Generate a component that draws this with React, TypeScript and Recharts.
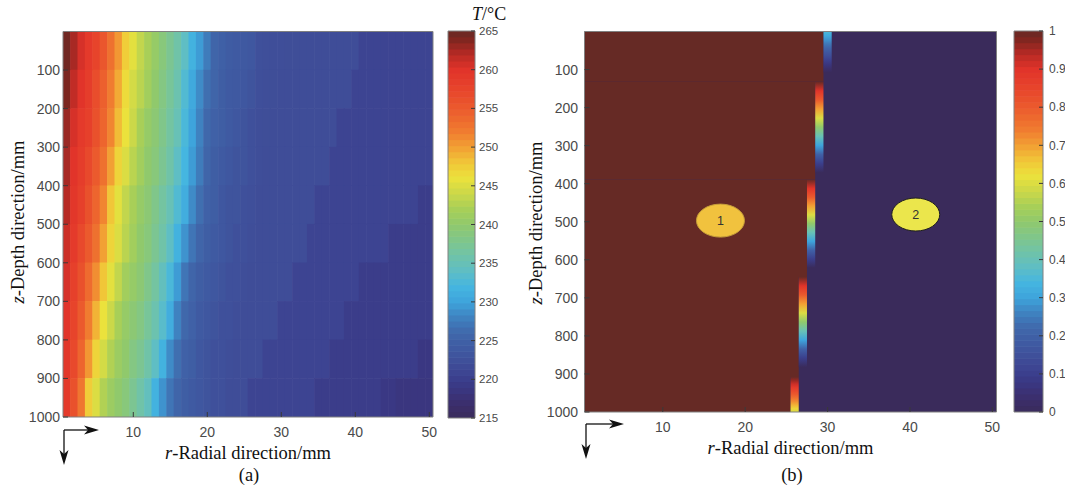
import React from "react";
import { ComposedChart, Scatter, XAxis, YAxis, ReferenceArea } from "recharts";

// ---------- axes / ticks ----------
const R_COLUMNS = [
  1, 2, 3, 4, 5, 6, 7, 8, 9, 10, 11, 12, 13, 14, 15, 16, 17, 18, 19, 20, 21, 22, 23, 24, 25,
  26, 27, 28, 29, 30, 31, 32, 33, 34, 35, 36, 37, 38, 39, 40, 41, 42, 43, 44, 45, 46, 47, 48, 49, 50,
];
const Z_ROWS = [50, 150, 250, 350, 450, 550, 650, 750, 850, 950];
const R_TICKS = [10, 20, 30, 40, 50];
const Z_TICKS = [100, 200, 300, 400, 500, 600, 700, 800, 900, 1000];
const T_TICKS = [215, 220, 225, 230, 235, 240, 245, 250, 255, 260, 265];
const PHASE_TICKS = [0, 0.1, 0.2, 0.3, 0.4, 0.5, 0.6, 0.7, 0.8, 0.9, 1];
const R_DOMAIN: [number, number] = [0.5, 50.5];
const Z_DOMAIN: [number, number] = [0, 1000];

// ---------- (a) temperature field, °C, one row per 100 mm of depth ----------
const tZ50 = [
  264.5, 262.5, 260.5, 259, 257.5, 255.5, 253, 250.5, 247.5, 245.5,
  243.5, 242, 240.5, 239, 237.5, 236, 234, 231.5, 229.5, 227.5,
  225.5, 224.8, 224.3, 224, 223.8, 223.5, 222.5, 222.3, 222.2, 222.2,
  222.1, 222.1, 222, 222, 222, 222, 222, 222, 222, 222,
  220.8, 220.8, 220.8, 220.8, 220.8, 220.8, 220.8, 220.8, 220.8, 220.8,
];
const tZ150 = [
  264, 261.5, 260, 258.5, 256.5, 254.5, 252, 249.5, 246.5, 244.5,
  243, 241.5, 240, 238.5, 237, 235.5, 233, 230.5, 228.5, 226.5,
  225.5, 224.5, 224, 223.8, 223.5, 223, 222.3, 222.2, 222.1, 222,
  222, 222, 222, 222, 222, 222, 222, 222, 222, 220.8,
  220.8, 220.8, 220.8, 220.8, 220.8, 220.8, 220.8, 220.8, 220.8, 220.8,
];
const tZ250 = [
  263, 260.5, 259, 258, 256, 254, 251.5, 248.5, 246, 244,
  242, 240.5, 239.5, 238, 236.5, 235, 232.5, 230, 228, 226,
  225, 224.5, 224, 223.5, 223, 222.5, 222.2, 222.1, 222, 222,
  222, 222, 222, 222, 222, 222, 222, 220.8, 220.8, 220.8,
  220.8, 220.8, 220.8, 220.8, 220.8, 220.8, 220.8, 220.8, 220.8, 220.8,
];
const tZ350 = [
  262.5, 260, 258.5, 257, 255, 253, 250, 247, 245, 243,
  241.5, 240, 239, 237.5, 236, 234, 232, 229.5, 227.5, 225.5,
  224.5, 224, 223.5, 223, 223, 222.5, 222.2, 222, 222, 222,
  222, 222, 222, 222, 222, 222, 220.8, 220.8, 220.8, 220.8,
  220.8, 220.8, 220.8, 220.8, 220.8, 220.8, 220.8, 220.8, 220.8, 220.8,
];
const tZ450 = [
  262, 259.5, 258, 256, 254, 251.5, 248, 245.5, 243.5, 242,
  240.5, 239.5, 238, 236.5, 235, 233, 231, 228.5, 226.5, 225,
  224.5, 223.5, 223, 223, 222.5, 222.3, 222, 222, 222, 222,
  222, 222, 222, 222, 220.8, 220.8, 220.8, 220.8, 220.8, 220.8,
  220.8, 220.8, 220.8, 220.8, 220.8, 220.8, 220.8, 220.8, 219.8, 219.8,
];
const tZ550 = [
  261, 259, 257, 255, 253, 250, 247, 245, 243, 241.5,
  240, 239, 237.5, 236, 234, 231.5, 229, 227, 225.5, 224.5,
  224, 223.5, 223, 222.5, 222.5, 222.2, 222, 222, 222, 222,
  222, 222, 222, 220.8, 220.8, 220.8, 220.8, 220.8, 220.8, 220.8,
  220.8, 220.8, 220.8, 220.8, 219.8, 219.8, 219.8, 219.8, 219.8, 219.8,
];
const tZ650 = [
  260.5, 258, 256, 253.5, 251, 248, 245.5, 243.5, 241.5, 240.5,
  239.5, 238, 236.5, 234.5, 232.5, 229.5, 227, 225.5, 224.5, 224,
  223.5, 223, 222.5, 222.5, 222.2, 222, 222, 222, 222, 222,
  222, 220.8, 220.8, 220.8, 220.8, 220.8, 220.8, 220.8, 220.8, 220.8,
  219.8, 219.8, 219.8, 219.8, 219.8, 219.8, 219.8, 219.8, 219.8, 219.8,
];
const tZ750 = [
  260, 257.5, 255, 252, 249, 246, 244, 242, 240.5, 239.5,
  238.5, 237, 235.5, 233.5, 231, 228, 226, 225, 224, 223.5,
  223, 222.5, 222.5, 222.2, 222, 222, 222, 222, 222, 220.8,
  220.8, 220.8, 220.8, 220.8, 220.8, 220.8, 220.8, 220.8, 219.8, 219.8,
  219.8, 219.8, 219.8, 219.8, 219.8, 219.8, 219.8, 219.8, 219.8, 219.8,
];
const tZ850 = [
  259.5, 257, 254, 250.5, 247, 244.5, 242.5, 241, 240, 238.5,
  237.5, 236, 234, 231.5, 228.5, 226.5, 225, 224.5, 223.5, 223,
  222.5, 222.5, 222.2, 222, 222, 222, 222, 220.8, 220.8, 220.8,
  220.8, 220.8, 220.8, 220.8, 220.8, 220.8, 219.8, 219.8, 219.8, 219.8,
  219.8, 219.8, 219.8, 219.8, 219.8, 219.8, 219.8, 219.8, 218.8, 218.8,
];
const tZ950 = [
  259, 256, 252.5, 247.5, 245, 242.5, 241, 240, 239, 237.5,
  236, 234.5, 231.5, 229, 227, 225.5, 224.5, 224, 223.5, 223,
  222.5, 222.5, 222, 222, 222, 220.8, 220.8, 220.8, 220.8, 220.8,
  220.8, 220.8, 220.8, 220.8, 219.8, 219.8, 219.8, 219.8, 219.8, 219.8,
  219.8, 219.8, 219.8, 219, 219, 218.5, 218.5, 218.5, 218.5, 218.5,
];
const T_ROWS = [tZ50, tZ150, tZ250, tZ350, tZ450, tZ550, tZ650, tZ750, tZ850, tZ950];

// ---------- (b) phase field: 1 = region 1, 0 = region 2 ----------
const BAND_Z0 = [0, 132, 389, 645, 908];
const BAND_Z1 = [132, 389, 645, 908, 1000];
const BAND_LAST_COL = [29, 28, 27, 26, 25];

const STRIP_COL = [30, 29, 28, 27, 26];
const STRIP_Z0 = [0, 132, 389, 645, 908];
const STRIP_Z1 = [108, 371, 621, 882, 1000];
const STRIP_TOP = [0.35, 1, 1, 1, 1];
const STRIP_BOTTOM = [0, 0, 0, 0, 0.6];

const MARKER_R = [17, 40.7];
const MARKER_Z = [497, 481];
const MARKER_TEXT = ["1", "2"];
const MARKER_FILL = ["#f1c23e", "#ebe64c"];
const MARKER_STROKE = ["#c49c3a", "#1e1e1e"];

// ---------- colormap ----------
const CMAP_POS = [0, 0.04, 0.08, 0.11, 0.14, 0.18, 0.22, 0.26, 0.3, 0.34, 0.38, 0.42, 0.46, 0.5, 0.54, 0.58, 0.62, 0.66, 0.7, 0.74, 0.8, 0.86, 0.9, 0.94, 0.98, 1];
const CMAP_HEX = [
  "#3a2b5b", "#3b2f6e", "#3a3884", "#3c4290", "#3f4d98", "#3f5aa2", "#4068ab", "#3f82c0", "#3ea4dc",
  "#45b6e0", "#5fbec4", "#70c3a8", "#80c68a", "#90c96c", "#a8cf58", "#cbd849", "#ebe23c", "#f1c638",
  "#f2a034", "#f07c30", "#eb5a2d", "#e6402b", "#e1342a", "#b72a25", "#7c2620", "#662a25",
];
const CMAP_LEVELS = 64;

const SANS = '"Liberation Sans", Arial, sans-serif';
const SERIF = '"Liberation Serif", "Times New Roman", serif';
const FRAME = "#808080";
const TICK = "#3a3a3a";
const TICK_TEXT = "#4a4a4a";
const H = 497;

const hexRgb = (h: string) => [1, 3, 5].map((i) => parseInt(h.slice(i, i + 2), 16));

function smoothColor(v: number) {
  const x = Math.max(0, Math.min(1, v));
  let i = 0;
  while (i < CMAP_POS.length - 2 && x > CMAP_POS[i + 1]) i++;
  const t = (x - CMAP_POS[i]) / (CMAP_POS[i + 1] - CMAP_POS[i]);
  const a = hexRgb(CMAP_HEX[i]);
  const b = hexRgb(CMAP_HEX[i + 1]);
  const c = a.map((av, k) => Math.round(av + (b[k] - av) * t));
  return `rgb(${c[0]},${c[1]},${c[2]})`;
}

// colorbar: a table of 64 flat levels, as MATLAB draws it
function cmap(v: number) {
  const idx = Math.min(CMAP_LEVELS - 1, Math.max(0, Math.floor(v * CMAP_LEVELS)));
  return smoothColor((idx + 0.5) / CMAP_LEVELS);
}
const tempColor = (t: number) => smoothColor((t - 215) / 50);

// ---------- decorations ----------
function CoordArrows({ x, y, right, down }: { x: number; y: number; right: number; down: number }) {
  return (
    <g>
      <line x1={x} y1={y} x2={right - 9} y2={y} stroke="#111" strokeWidth={1.3} />
      <polygon points={`${right},${y} ${right - 15},${y - 4.5} ${right - 11},${y} ${right - 15},${y + 4.5}`} fill="#111" />
      <line x1={x} y1={y} x2={x} y2={down - 9} stroke="#111" strokeWidth={1.3} />
      <polygon points={`${x},${down} ${x - 4.5},${down - 15} ${x},${down - 11} ${x + 4.5},${down - 15}`} fill="#111" />
    </g>
  );
}

type PanelCfg = {
  left: number; width: number; x0: number; x1: number; y0: number; y1: number;
  yTickMargin: number; xTickMargin: number; titleY: number; letter: string; letterX: number;
  yTitleX: number; yTitleY: number; origin: [number, number]; tips: [number, number];
};

const PANEL_A: PanelCfg = {
  left: 0, width: 445, x0: 63, x1: 433, y0: 31.5, y1: 417, yTickMargin: 8, xTickMargin: 15,
  titleY: 459, letter: "(a)", letterX: 249, yTitleX: 24, yTitleY: 222, origin: [64, 430], tips: [99, 465],
};
const PANEL_B: PanelCfg = {
  left: 520, width: 490, x0: 584.5, x1: 996.5, y0: 31.5, y1: 412, yTickMargin: 11.5, xTickMargin: 14.7,
  titleY: 454, letter: "(b)", letterX: 792, yTitleX: 542, yTitleY: 223, origin: [586, 424], tips: [624, 459],
};

const tickStyle = { fontSize: 14, fill: TICK_TEXT, fontFamily: SANS };

function frameAxes(c: PanelCfg) {
  const L = c.left;
  const xLabel = () => (
    <g>
      <text x={(c.x0 + c.x1) / 2 - L} y={c.titleY} textAnchor="middle" fontFamily={SERIF} fontSize={18.5} fill="#111">
        <tspan fontStyle="italic">r</tspan>-Radial direction/mm
      </text>
      <text x={c.letterX - L} y={481} textAnchor="middle" fontFamily={SERIF} fontSize={18.5} fill="#111">
        {c.letter}
      </text>
      <CoordArrows x={c.origin[0] - L} y={c.origin[1]} right={c.tips[0] - L} down={c.tips[1]} />
    </g>
  );
  const yLabel = () => (
    <text
      transform={`translate(${c.yTitleX - L},${c.yTitleY}) rotate(-90)`}
      textAnchor="middle" fontFamily={SERIF} fontSize={18.5} fill="#111"
    >
      <tspan fontStyle="italic">z</tspan>-Depth direction/mm
    </text>
  );
  return [
    <XAxis key="xb" xAxisId={0} dataKey="r" type="number" domain={R_DOMAIN} ticks={R_TICKS} interval={0}
      allowDataOverflow height={30} tickSize={-5} tickMargin={c.xTickMargin}
      axisLine={{ stroke: FRAME }} tickLine={{ stroke: TICK }} tick={tickStyle} label={xLabel} />,
    <XAxis key="xt" xAxisId="top" orientation="top" type="number" domain={R_DOMAIN} ticks={R_TICKS} interval={0}
      allowDataOverflow height={1} tickSize={-5} tick={false}
      axisLine={{ stroke: FRAME }} tickLine={{ stroke: TICK }} />,
    <YAxis key="yl" yAxisId={0} dataKey="z" type="number" domain={Z_DOMAIN} reversed ticks={Z_TICKS} interval={0}
      allowDataOverflow width={45} tickSize={-5} tickMargin={c.yTickMargin}
      axisLine={{ stroke: FRAME }} tickLine={{ stroke: TICK }} tick={tickStyle} label={yLabel} />,
    <YAxis key="yr" yAxisId="right" orientation="right" type="number" domain={Z_DOMAIN} reversed ticks={Z_TICKS}
      interval={0} allowDataOverflow width={1} tickSize={-5} tick={false}
      axisLine={{ stroke: FRAME }} tickLine={{ stroke: TICK }} />,
  ];
}

const panelMargin = (c: PanelCfg) => ({
  top: c.y0 - 1,
  bottom: H - c.y1 - 30,
  left: c.x0 - c.left - 45,
  right: c.left + c.width - c.x1 - 1,
});

// ---------- panel (a) ----------
const tempCells = Z_ROWS.flatMap((z, ri) => R_COLUMNS.map((r, ci) => ({ r, z, t: T_ROWS[ri][ci] })));
const CELL_W = (PANEL_A.x1 - PANEL_A.x0) / R_COLUMNS.length;
const CELL_H = (PANEL_A.y1 - PANEL_A.y0) / Z_ROWS.length;

const cellShape = (p: any) => (
  <rect x={p.cx - CELL_W / 2 - 0.3} y={p.cy - CELL_H / 2 - 0.3} width={CELL_W + 0.6} height={CELL_H + 0.6}
    fill={tempColor(p.payload.t)} />
);

function TemperaturePanel() {
  const c = PANEL_A;
  return (
    <div style={{ position: "absolute", left: c.left, top: 0 }}>
      <ComposedChart width={c.width} height={H} margin={panelMargin(c)}>
        <Scatter data={tempCells} shape={cellShape} isAnimationActive={false} zIndex={50} />
        {frameAxes(c)}
      </ComposedChart>
    </div>
  );
}

// ---------- panel (b) ----------
const markers = MARKER_R.map((r, i) => ({ r, z: MARKER_Z[i], text: MARKER_TEXT[i], fill: MARKER_FILL[i], stroke: MARKER_STROKE[i] }));

const markerShape = (p: any) => (
  <g>
    <ellipse cx={p.cx} cy={p.cy} rx={24} ry={16.5} fill={p.payload.fill} stroke={p.payload.stroke} strokeWidth={1} />
    <text x={p.cx} y={p.cy + 4.5} textAnchor="middle" fontFamily={SANS} fontSize={12.5} fill="#333">
      {p.payload.text}
    </text>
  </g>
);

function PhasePanel() {
  const c = PANEL_B;
  return (
    <div style={{ position: "absolute", left: c.left, top: 0 }}>
      <ComposedChart width={c.width} height={H} margin={panelMargin(c)}>
        <defs>
          {STRIP_COL.map((_, i) => (
            <linearGradient key={i} id={`strip${i}`} x1="0" y1="0" x2="0" y2="1">
              {[0, 0.1, 0.2, 0.3, 0.4, 0.5, 0.6, 0.7, 0.8, 0.9, 1].map((f) => (
                <stop key={f} offset={f} stopColor={smoothColor(STRIP_TOP[i] + (STRIP_BOTTOM[i] - STRIP_TOP[i]) * f)} />
              ))}
            </linearGradient>
          ))}
        </defs>
        <ReferenceArea x1={R_DOMAIN[0]} x2={R_DOMAIN[1]} y1={Z_DOMAIN[0]} y2={Z_DOMAIN[1]}
          fill={smoothColor(0)} fillOpacity={1} stroke="none" ifOverflow="visible" />
        {BAND_Z0.map((z0, i) => (
          <ReferenceArea key={`b${i}`} x1={R_DOMAIN[0]} x2={BAND_LAST_COL[i] + 0.5} y1={z0} y2={BAND_Z1[i]}
            fill={smoothColor(1)} fillOpacity={1} stroke="none" ifOverflow="visible" />
        ))}
        {STRIP_COL.map((col, i) => (
          <ReferenceArea key={`s${i}`} x1={col - 0.5} x2={col + 0.5} y1={STRIP_Z0[i]} y2={STRIP_Z1[i]}
            fill={`url(#strip${i})`} fillOpacity={1} stroke="none" ifOverflow="visible" />
        ))}
        <Scatter data={markers} shape={markerShape} isAnimationActive={false} />
        {frameAxes(c)}
      </ComposedChart>
    </div>
  );
}

// ---------- colorbars ----------
type BarCfg = {
  left: number; width: number; x0: number; x1: number; y0: number; y1: number;
  lo: number; hi: number; ticks: number[]; fontSize: number; tickMargin: number; title?: boolean;
};

function ColorBar({ cfg }: { cfg: BarCfg }) {
  const axisW = 40;
  const bandH = (cfg.y1 - cfg.y0) / CMAP_LEVELS;
  const bandW = cfg.x1 - cfg.x0;
  const bands = Array.from({ length: CMAP_LEVELS }, (_, k) => ({
    x: 0.5,
    y: cfg.lo + ((k + 0.5) / CMAP_LEVELS) * (cfg.hi - cfg.lo),
    v: (k + 0.5) / CMAP_LEVELS,
  }));
  const bandShape = (p: any) => (
    <rect x={p.cx - bandW / 2} y={p.cy - bandH / 2 - 0.3} width={bandW} height={bandH + 0.6} fill={cmap(p.payload.v)} />
  );
  const title = () => (
    <text x={472 - cfg.left} y={19.5} fontFamily={SERIF} fontSize={18} fill="#111">
      <tspan fontStyle="italic">T</tspan>/°C
    </text>
  );
  return (
    <div style={{ position: "absolute", left: cfg.left, top: 0 }}>
      <ComposedChart
        width={cfg.width}
        height={H}
        margin={{ top: cfg.y0, bottom: H - cfg.y1, left: cfg.x0 - cfg.left, right: cfg.left + cfg.width - cfg.x1 - axisW }}
      >
        <Scatter data={bands} shape={bandShape} isAnimationActive={false} zIndex={50} />
        <ReferenceArea x1={0} x2={1} y1={cfg.lo} y2={cfg.hi} fill="none" stroke={FRAME} ifOverflow="visible" />
        <XAxis dataKey="x" type="number" domain={[0, 1]} hide allowDataOverflow />
        <YAxis dataKey="y" type="number" orientation="right" domain={[cfg.lo, cfg.hi]} ticks={cfg.ticks} interval={0}
          allowDataOverflow width={axisW} tickSize={-4} tickMargin={cfg.tickMargin} axisLine={false}
          tickLine={{ stroke: TICK }} tick={{ fontSize: cfg.fontSize, fill: TICK_TEXT, fontFamily: SANS }}
          label={cfg.title ? title : undefined} />
      </ComposedChart>
    </div>
  );
}

const BAR_A: BarCfg = { left: 440, width: 80, x0: 448, x1: 475, y0: 31, y1: 418, lo: 215, hi: 265, ticks: T_TICKS, fontSize: 11.5, tickMargin: 8, title: true };
const BAR_B: BarCfg = { left: 1000, width: 110, x0: 1014, x1: 1043, y0: 31, y1: 412, lo: 0, hi: 1, ticks: PHASE_TICKS, fontSize: 12, tickMargin: 10 };

export default function App() {
  return (
    <div style={{ position: "absolute", left: 0, top: 0, width: 1065, height: H, overflow: "hidden", background: "#fff" }}>
      <TemperaturePanel />
      <ColorBar cfg={BAR_A} />
      <PhasePanel />
      <ColorBar cfg={BAR_B} />
    </div>
  );
}
